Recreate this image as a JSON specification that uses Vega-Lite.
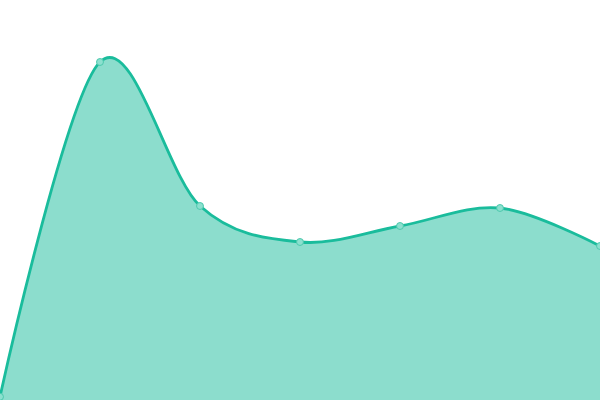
{
  "$schema": "https://vega.github.io/schema/vega-lite/v6.json",
  "autosize": {"type": "none"},
  "width": 600,
  "height": 400,
  "padding": 0,
  "config": {"view": {"stroke": null}},
  "data": {
    "values": [
      {"i": 0, "v": 0.8},
      {"i": 1, "v": 84.5},
      {"i": 2, "v": 48.5},
      {"i": 3, "v": 39.5},
      {"i": 4, "v": 43.5},
      {"i": 5, "v": 48},
      {"i": 6, "v": 38.5}
    ]
  },
  "encoding": {
    "x": {"field": "i", "type": "quantitative", "axis": null, "scale": {"domain": [0, 6], "nice": false}},
    "y": {"field": "v", "type": "quantitative", "axis": null, "scale": {"domain": [0, 100], "nice": false}}
  },
  "layer": [
    {"mark": {"type": "area", "interpolate": "cardinal", "color": "#1abc9c", "opacity": 0.5}},
    {"mark": {"type": "line", "interpolate": "cardinal", "color": "#1abc9c", "strokeWidth": 2.8}},
    {"mark": {"type": "point", "filled": true, "fill": "#8ce0cf", "stroke": "#4cc9ad", "strokeWidth": 1, "size": 48, "opacity": 1}}
  ]
}
